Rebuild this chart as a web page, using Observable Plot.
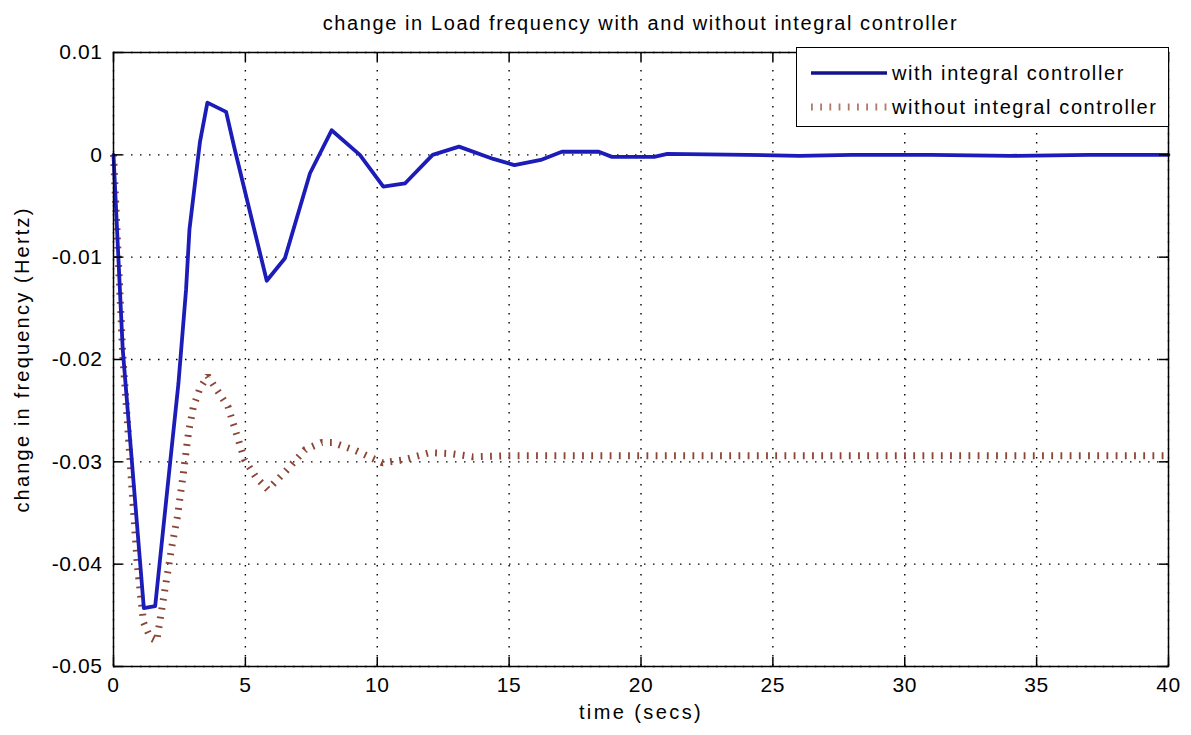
<!DOCTYPE html>
<html><head><meta charset="utf-8">
<script src="https://cdn.jsdelivr.net/npm/d3@7"></script>
<script src="https://cdn.jsdelivr.net/npm/@observablehq/plot@0.6"></script>
<style>
body{margin:0;background:#fff;font-family:"Liberation Sans",Arial,sans-serif;}
#wrap{position:relative;width:1191px;height:735px;overflow:hidden;}
#title{height:40px;line-height:46px;padding-left:113px;padding-right:23px;text-align:center;font-size:20px;letter-spacing:1.6px;color:#000;white-space:nowrap;}
#legend{position:absolute;left:796px;top:47px;width:371px;height:78px;border:1.5px solid #000;background:#fff;font-size:20px;letter-spacing:1.6px;}
.row{position:absolute;left:0;height:30px;line-height:30px;white-space:nowrap;}
.row svg{position:absolute;left:12px;top:0;}
.row span{position:absolute;left:95px;top:0;}
.xlbl, .xlbl text{letter-spacing:2.4px;}
.ylbl, .ylbl text{letter-spacing:2.2px;}
g[aria-label$="tick label"] text{letter-spacing:0.6px;}
</style></head><body>
<div id="wrap">
<div id="title">change in Load frequency with and without integral controller</div>
<div id="chart"></div>
<div id="legend">
 <div class="row" style="top:10px"><svg width="80" height="30"><line x1="2" x2="78" y1="15" y2="15" stroke="#13138f" stroke-width="3.5"/></svg><span id="l1"></span></div>
 <div class="row" style="top:44px"><svg width="80" height="30"><line x1="2" x2="78" y1="15" y2="15" stroke="#b07a68" stroke-width="7" stroke-dasharray="1.8,7.4"/></svg><span id="l2"></span></div>
</div>
</div>
<script>
const seriesNames = ["with integral controller", "without integral controller"];

const tBlue = [0, 0.35, 1.15, 1.58, 2.15, 2.46, 2.75, 2.88, 3.28, 3.56, 4.27, 4.6, 5.81, 6.5, 7.45, 8.27, 9.34, 10.23, 11.05, 12.1, 13.1, 14.4, 15.2, 16.2, 17.0, 18.4, 18.9, 20.5, 21.0, 24.0, 26.0, 28.0, 31.0, 34.0, 37.0, 40.0];
const vBlue = [0, -0.019, -0.0443, -0.0441, -0.030, -0.0224, -0.0132, -0.0073, 0.0013, 0.0051, 0.0042, 0.0005, -0.0123, -0.0101, -0.0018, 0.0024, 0.0, -0.0031, -0.0028, 0.0, 0.0008, -0.0004, -0.001, -0.0005, 0.0003, 0.0003, -0.0002, -0.0002, 0.0001, 0.0, -0.0001, 0.0, 0.0, -0.0001, 0.0, 0.0];

const tRed = [0, 0.35, 0.9, 1.14, 1.4, 1.64, 1.96, 2.21, 2.42, 2.65, 2.84, 3.03, 3.28, 3.57, 4.34, 4.97, 5.4, 5.85, 6.57, 7.27, 7.9, 8.3, 9.18, 10.2, 11.0, 12.0, 12.8, 13.6, 15.0, 20.0, 25.0, 30.0, 35.0, 40.0];
const vRed = [0, -0.0195, -0.040, -0.0457, -0.0472, -0.0475, -0.0423, -0.0383, -0.0354, -0.0311, -0.0272, -0.0246, -0.0228, -0.0216, -0.0246, -0.0298, -0.0315, -0.0327, -0.0308, -0.0288, -0.0281, -0.0281, -0.0289, -0.0301, -0.0298, -0.0291, -0.0292, -0.0295, -0.0294, -0.0294, -0.0294, -0.0294, -0.0294, -0.0294];

const xTicks = [0, 5, 10, 15, 20, 25, 30, 35, 40];
const yTicks = [-0.05, -0.04, -0.03, -0.02, -0.01, 0, 0.01];
const yTickLabels = ["-0.05", "-0.04", "-0.03", "-0.02", "-0.01", "0", "0.01"];
const xLabel = "time (secs)";
const yLabel = "change in frequency (Hertz)";

document.getElementById("l1").textContent = seriesNames[0];
document.getElementById("l2").textContent = seriesNames[1];

const blue = tBlue.map((t, i) => ({t, v: vBlue[i]}));
const red = tRed.map((t, i) => ({t, v: vRed[i]}));

const W = 1191, H = 695, mT = 12, mL = 113, mR = 23, mB = 69;
const innerH = H - mT - mB, innerW = W - mL - mR;
const tk = 9;
const font = "'Liberation Sans', Arial, sans-serif";

const chart = Plot.plot({
  width: W, height: H, marginTop: mT, marginLeft: mL, marginRight: mR, marginBottom: mB,
  style: {fontFamily: font, fontSize: "21px", color: "#000", background: "#fff", overflow: "visible"},
  x: {domain: [0, 40], ticks: xTicks, tickFormat: d => String(d), tickSize: 0, tickPadding: 11, label: null},
  y: {domain: [-0.05, 0.01], ticks: yTicks, tickFormat: d => yTickLabels[yTicks.indexOf(d)] ?? String(d), tickSize: 0, tickPadding: 11, label: null},
  marks: [
    Plot.gridX(xTicks, {stroke: "#000", strokeOpacity: 1, strokeWidth: 1.4, strokeDasharray: "1.5,7.5"}),
    Plot.gridY(yTicks, {stroke: "#000", strokeOpacity: 1, strokeWidth: 1.4, strokeDasharray: "1.5,7.5"}),
    Plot.line(red, {x: "t", y: "v", stroke: "#8a4535", strokeWidth: 7, strokeDasharray: "1.8,7.4", strokeLinecap: "butt", strokeLinejoin: "miter"}),
    Plot.line(blue, {x: "t", y: "v", stroke: "#1c1cb8", strokeWidth: 3.8}),
    Plot.frame({stroke: "#000", strokeWidth: 1.5}),
    Plot.tickX(xTicks, {insetTop: innerH - tk, stroke: "#000", strokeWidth: 1.5}),
    Plot.tickX(xTicks, {insetBottom: innerH - tk, stroke: "#000", strokeWidth: 1.5}),
    Plot.tickY(yTicks, {insetRight: innerW - tk, stroke: "#000", strokeWidth: 1.5}),
    Plot.tickY(yTicks, {insetLeft: innerW - tk, stroke: "#000", strokeWidth: 1.5}),
    Plot.text([xLabel], {frameAnchor: "bottom", dy: 52, fontSize: 20, textAnchor: "middle", fill: "#000", className: "xlbl"}),
    Plot.text([yLabel], {frameAnchor: "left", dx: -91, rotate: -90, fontSize: 20, textAnchor: "middle", fill: "#000", className: "ylbl"})
  ]
});
document.getElementById("chart").appendChild(chart);
</script>
</body></html>
